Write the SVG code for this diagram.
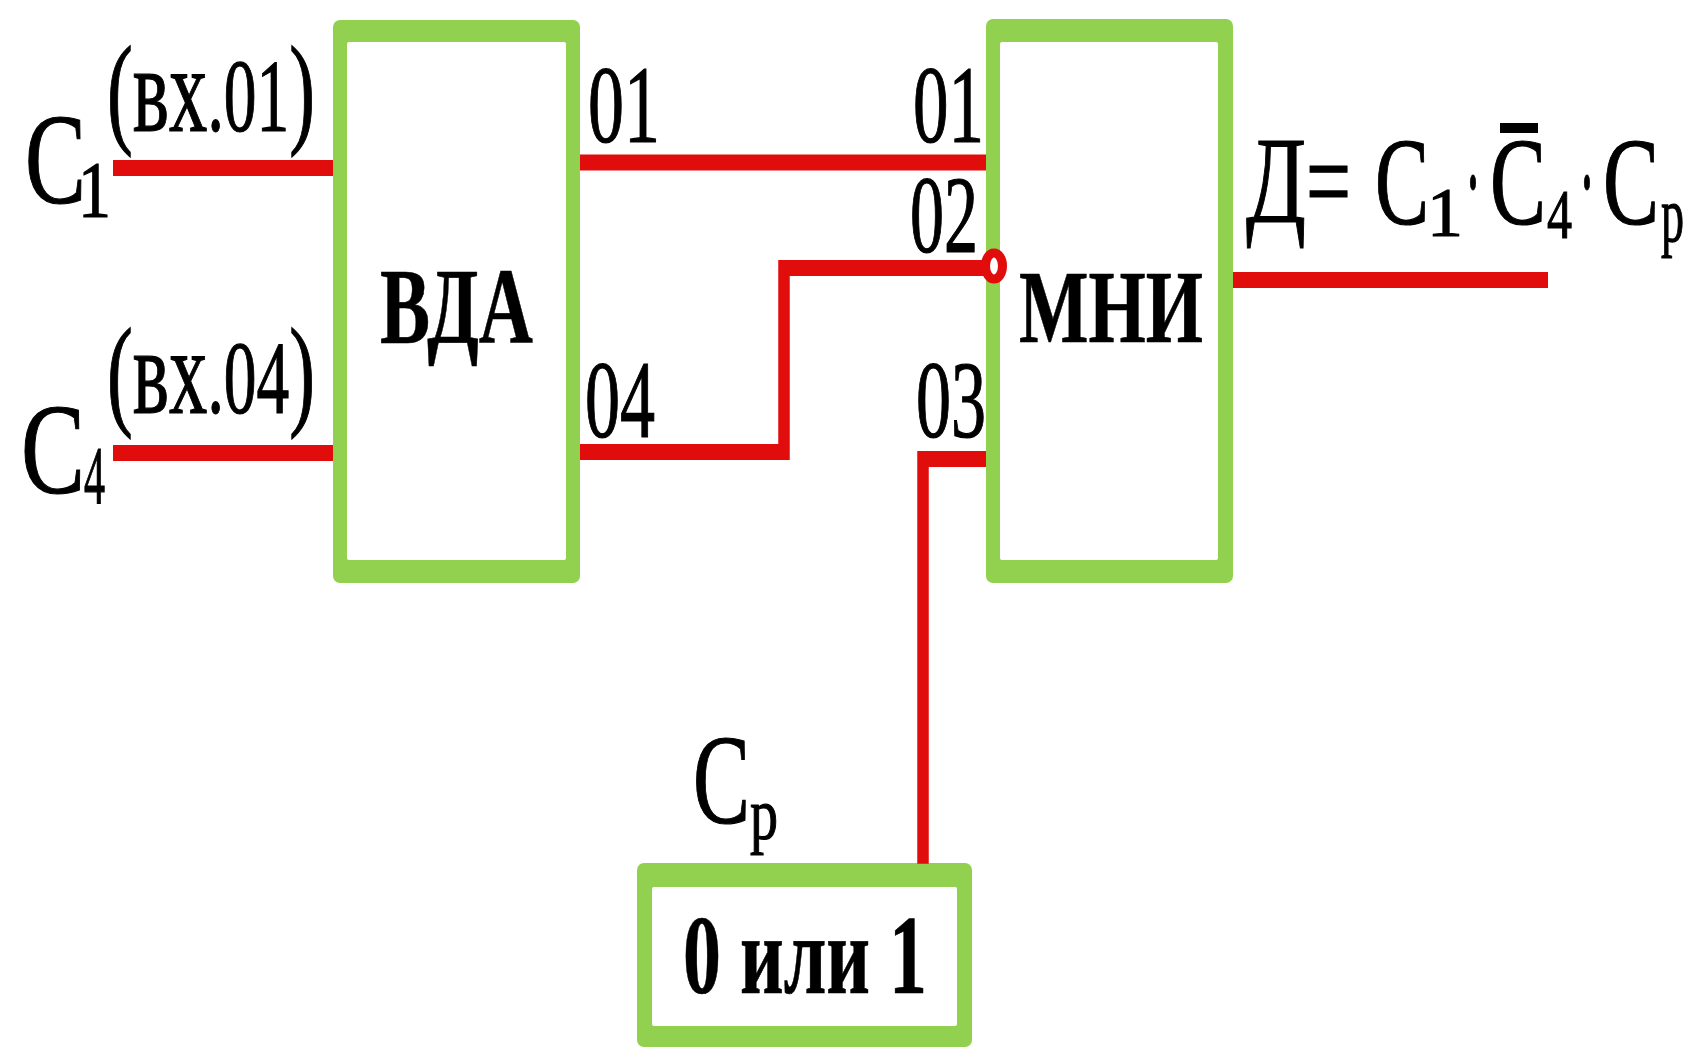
<svg xmlns="http://www.w3.org/2000/svg" width="1696" height="1051" viewBox="0 0 1696 1051">
<style>
.frame{fill:#92D050}
.hole{fill:#FFFFFF}
.wire{fill:none;stroke:#E10C0C;stroke-width:11.5;stroke-linejoin:miter;stroke-linecap:butt}
.inv{fill:#FFFFFF;stroke:#E10C0C;stroke-width:9}
.t{font-family:"Liberation Serif","DejaVu Serif",serif;fill:#000;stroke:#000;stroke-width:1.2}
.b{font-weight:bold;stroke-width:0.6}
</style>
<rect width="1696" height="1051" fill="#FFFFFF"/>

<g id="node-vda">
<rect class="frame" x="333" y="20" width="247" height="563" rx="7"/>
<rect class="hole" x="347" y="42" width="219" height="518" rx="2"/>
<text class="t b" x="380" y="343" font-size="107" textLength="153" lengthAdjust="spacingAndGlyphs">ВДА</text>
<text class="t" x="588" y="142" font-size="111" textLength="72" lengthAdjust="spacingAndGlyphs">01</text>
<text class="t" x="585" y="437" font-size="111" textLength="70" lengthAdjust="spacingAndGlyphs">04</text>
</g>

<g id="node-mni">
<rect class="frame" x="986" y="19" width="247" height="564" rx="7"/>
<rect class="hole" x="1000" y="42" width="218" height="518" rx="2"/>
<text class="t b" x="1019" y="342" font-size="104" textLength="184" lengthAdjust="spacingAndGlyphs">МНИ</text>
<text class="t" x="913" y="142" font-size="111" textLength="71" lengthAdjust="spacingAndGlyphs">01</text>
<text class="t" x="910" y="252" font-size="111" textLength="68" lengthAdjust="spacingAndGlyphs">02</text>
<text class="t" x="916" y="437" font-size="111" textLength="70" lengthAdjust="spacingAndGlyphs">03</text>
</g>

<g id="node-cp">
<rect class="frame" x="637" y="863" width="335" height="184" rx="7"/>
<rect class="hole" x="652" y="887" width="305" height="139" rx="2"/>
<text class="t b" x="683" y="993" font-size="112" textLength="244" lengthAdjust="spacingAndGlyphs">0 или 1</text>
<text class="t" x="693" y="823" font-size="127" textLength="57" lengthAdjust="spacingAndGlyphs">C</text>
<text class="t" x="750" y="839" font-size="74" textLength="28" lengthAdjust="spacingAndGlyphs">p</text>
</g>

<g id="input-c1">
<text class="t" x="25" y="203" font-size="130" textLength="61" lengthAdjust="spacingAndGlyphs">C</text>
<text class="t" x="78" y="217" font-size="80" textLength="33" lengthAdjust="spacingAndGlyphs">1</text>
<text class="t" x="107" y="131" font-size="104" textLength="208" lengthAdjust="spacingAndGlyphs"><tspan font-size="123">(</tspan><tspan font-size="122">вх</tspan>.01<tspan font-size="123">)</tspan></text>
</g>

<g id="input-c4">
<text class="t" x="21" y="493" font-size="130" textLength="64" lengthAdjust="spacingAndGlyphs">C</text>
<text class="t" x="84" y="503" font-size="82" textLength="21" lengthAdjust="spacingAndGlyphs">4</text>
<text class="t" x="107" y="413" font-size="104" textLength="208" lengthAdjust="spacingAndGlyphs"><tspan font-size="123">(</tspan><tspan font-size="122">вх</tspan>.04<tspan font-size="123">)</tspan></text>
</g>

<g id="output-formula">
<text class="t" x="1246" y="222" font-size="122" textLength="60" lengthAdjust="spacingAndGlyphs">Д</text>
<text class="t" x="1306" y="222" font-size="122" textLength="45" lengthAdjust="spacingAndGlyphs">=</text>
<text class="t" x="1375" y="224" font-size="125" textLength="54" lengthAdjust="spacingAndGlyphs">C</text>
<text class="t" x="1427" y="236" font-size="70" textLength="36" lengthAdjust="spacingAndGlyphs">1</text>
<text class="t" x="1465" y="224" font-size="125" textLength="16" lengthAdjust="spacingAndGlyphs">·</text>
<text class="t" x="1490" y="224" font-size="125" textLength="56" lengthAdjust="spacingAndGlyphs">C</text>
<rect x="1500" y="123" width="38" height="10" fill="#000"/>
<text class="t" x="1547" y="238" font-size="70" textLength="25" lengthAdjust="spacingAndGlyphs">4</text>
<text class="t" x="1579" y="224" font-size="125" textLength="16" lengthAdjust="spacingAndGlyphs">·</text>
<text class="t" x="1603" y="224" font-size="125" textLength="56" lengthAdjust="spacingAndGlyphs">C</text>
<text class="t" x="1661" y="241" font-size="78" textLength="23" lengthAdjust="spacingAndGlyphs">p</text>
</g>

<g id="connectors">
<g transform="scale(1,1.4)">
<polyline class="wire" points="113,120 333,120"/>
<polyline class="wire" points="113,323.57 333,323.57"/>
<polyline class="wire" points="580,116.07 986,116.07"/>
<polyline class="wire" points="580,322.86 784,322.86 784,191.43 985,191.43"/>
<polyline class="wire" points="986,327.86 923,327.86 923,617"/>
<polyline class="wire" points="1233,200 1548,200"/>
</g>
<ellipse class="inv" cx="994" cy="266" rx="8.5" ry="13"/>
</g>
</svg>
